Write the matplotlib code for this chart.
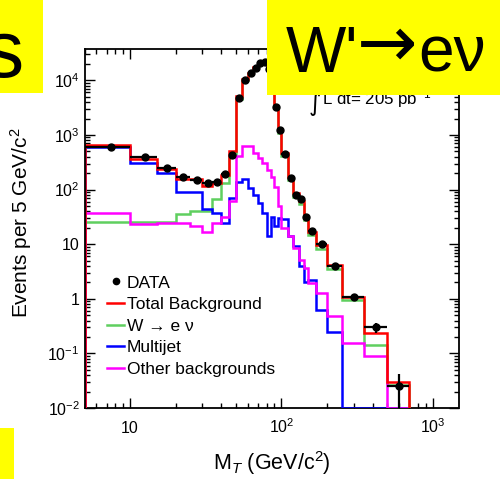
import numpy as np
import matplotlib.pyplot as plt
from matplotlib.lines import Line2D
from matplotlib.patches import Rectangle
from matplotlib.ticker import FixedLocator, FixedFormatter, LogLocator, NullFormatter

plt.rcParams['font.family'] = ['Liberation Sans', 'DejaVu Sans']
plt.rcParams['mathtext.fontset'] = 'custom'
plt.rcParams['mathtext.rm'] = 'Liberation Sans'
plt.rcParams['mathtext.it'] = 'Liberation Sans:italic'
plt.rcParams['mathtext.bf'] = 'Liberation Sans:bold'

# bin edges in M_T (GeV/c^2)
edges = [5, 10, 15, 20, 25, 30, 35, 40, 45, 50, 55, 60, 65, 70, 75, 80, 85, 90, 95, 100,
         110, 120, 130, 140, 150, 170, 200, 250, 350, 500, 700]

# events per 5 GeV/c^2
data = [605, 400, 246, 168, 152, 133, 140, 196, 425, 4700, 10100, 13400, 17000, 20500,
        21700, 16000, 7500, 3240, 1210, 452, 164, 81, 66, 32, 17.7, 10.0, 4.0, 1.06, 0.30, 0.025]
data_err_lo = [0] * 27 + [0.15, 0.065, 0.0245]
data_err_hi = [0] * 27 + [0.17, 0.067, 0.017]

total_bkg = [650, 366, 240, 157, 157, 115, 133, 188, 520, 5100, 10500, 13500, 17500, 20500,
             22000, 16500, 7800, 3300, 1250, 470, 170, 85, 62, 33, 17, 9.5, 4.2, 1.1, 0.235, 0.030]
w_enu = [26, 26, 26, 36, 40, 41, 67, 133, 400, 4500, 10000, 13000, 17000, 20000,
         21500, 16000, 7500, 3100, 1100, 410, 150, 72, 55, 28, 14.5, 8.2, 3.5, 0.95, 0.143, 0.027]
multijet = [597, 310, 202, 90, 90, 45, 37, 24, 70, 140, 157, 107, 81, 57,
            38, 14, 31, 22, 30, 29, 14, 9.4, 4.0, 2.0, 2.2, 0.63, 0.25, 0, 0, 0]
other_bkg = [38, 23.5, 25, 25, 22, 17, 25, 31, 63, 410, 620, 620, 470, 380,
             310, 230, 170, 110, 50, 20, 14, 8.7, 5.2, 3.7, 1.94, 1.27, 0.49, 0.154, 0.091, 0]

x_ticks = [10, 100, 1000]
x_tick_labels = ['10', r'10$^{2}$', r'10$^{3}$']
y_ticks = [1e-2, 1e-1, 1, 10, 1e2, 1e3, 1e4]
y_tick_labels = [r'10$^{-2}$', r'10$^{-1}$', '1', '10', r'10$^{2}$', r'10$^{3}$', r'10$^{4}$']

ymin, ymax = 1e-2, 3.7e4
xmin, xmax = 5, 1480

fig = plt.figure(figsize=(5, 4.79), dpi=100, facecolor='white')
ax = fig.add_axes([0.169, 0.148, 0.748, 0.749])
ax.set_xscale('log')
ax.set_yscale('log')

e = np.array(edges, dtype=float)
centers = 0.5 * (e[:-1] + e[1:])
halfw = 0.5 * np.diff(e)

def draw_hist(vals, color):
    v = np.maximum(np.array(vals, dtype=float), ymin)
    ax.stairs(v, e, baseline=ymin, color=color, lw=1.8, zorder=3)

draw_hist(w_enu, '#5fcf5f')
draw_hist(multijet, '#0000ff')
draw_hist(other_bkg, '#ff00ff')
draw_hist(total_bkg, '#ff0000')

ax.errorbar(centers, data, xerr=halfw, yerr=[data_err_lo, data_err_hi], fmt='o',
            color='k', ms=5, elinewidth=1.6, capsize=0, zorder=4)

ax.set_xlim(xmin, xmax)
ax.set_ylim(ymin, ymax)

ax.xaxis.set_major_locator(FixedLocator(x_ticks))
ax.xaxis.set_major_formatter(FixedFormatter(x_tick_labels))
ax.xaxis.set_minor_locator(LogLocator(base=10, subs=range(2, 10), numticks=20))
ax.xaxis.set_minor_formatter(NullFormatter())
ax.yaxis.set_major_locator(FixedLocator(y_ticks))
ax.yaxis.set_major_formatter(FixedFormatter(y_tick_labels))
ax.yaxis.set_minor_locator(LogLocator(base=10, subs=range(2, 10), numticks=20))
ax.yaxis.set_minor_formatter(NullFormatter())

ax.tick_params(which='both', direction='in', top=True, right=True, width=1.0, labelsize=11.5)
ax.tick_params(which='major', length=7)
ax.tick_params(which='minor', length=3.6)
ax.tick_params(axis='x', pad=18)
ax.tick_params(axis='y', pad=3.5)
for lab in ax.get_xticklabels():
    lab.set_verticalalignment('baseline')

for s in ax.spines.values():
    s.set_linewidth(1.3)
ax.spines['left'].set_zorder(5)

ax.set_xlabel(r'M$_{T}$ (GeV/c$^{2}$)', fontsize=15.5)
ax.xaxis.set_label_coords(0.5, -0.115)
ax.set_ylabel(r'Events per 5 GeV/c$^{2}$', fontsize=15)
ax.yaxis.set_label_coords(-0.135, 0.518)

handles = [Line2D([], [], marker='o', ls='none', color='k', ms=4.5),
           Line2D([], [], color='#ff0000', lw=1.8),
           Line2D([], [], color='#5fcf5f', lw=1.8),
           Line2D([], [], color='#0000ff', lw=1.8),
           Line2D([], [], color='#ff00ff', lw=1.8)]
labels = ['DATA', 'Total Background', 'W \u2192 e \u03bd', 'Multijet', 'Other backgrounds']
ax.legend(handles, labels, loc='upper left', bbox_to_anchor=(0.06, 0.37), frameon=False,
          fontsize=12.5, handlelength=1.0, handletextpad=0.15, labelspacing=0.37,
          borderaxespad=0, borderpad=0)

# luminosity label (partly hidden under the yellow box)
ax.text(0.618, 0.783, '\u222b', transform=fig.transFigure, fontsize=17,
        family='DejaVu Sans', va='center', ha='left')
ax.text(0.643, 0.783, r'L dt= 205 pb$^{-1}$', transform=fig.transFigure, fontsize=12.2,
        va='baseline', ha='left')

# yellow overlay boxes
fig.add_artist(Rectangle((0, 1 - 93.3 / 479), 43.3 / 500, 93.3 / 479, transform=fig.transFigure,
                         facecolor='#ffff00', edgecolor='none', zorder=5))
fig.add_artist(Rectangle((266.7 / 500, 1 - 95 / 479), 233.3 / 500, 95 / 479, transform=fig.transFigure,
                         facecolor='#ffff00', edgecolor='none', zorder=5))
fig.add_artist(Rectangle((0, 0), 14 / 500, 51 / 479, transform=fig.transFigure,
                         facecolor='#ffff00', edgecolor='none', zorder=5))
fig.text(24 / 500, 1 - 77 / 479, 's', fontsize=58, ha='right', va='baseline', zorder=6)

# title pieces: W' -> e nu
fig.text(358 / 500, 1 - 72 / 479, "W'", fontsize=46, ha='right', va='baseline', zorder=6)
fig.text(387 / 500, 1 - 47 / 479, '\u2192', fontsize=52, family='DejaVu Sans',
         ha='center', va='center', zorder=6)
fig.text(418 / 500, 1 - 72 / 479, 'e\u03bd', fontsize=46, ha='left', va='baseline', zorder=6)

fig.savefig('out.png', dpi=100)
